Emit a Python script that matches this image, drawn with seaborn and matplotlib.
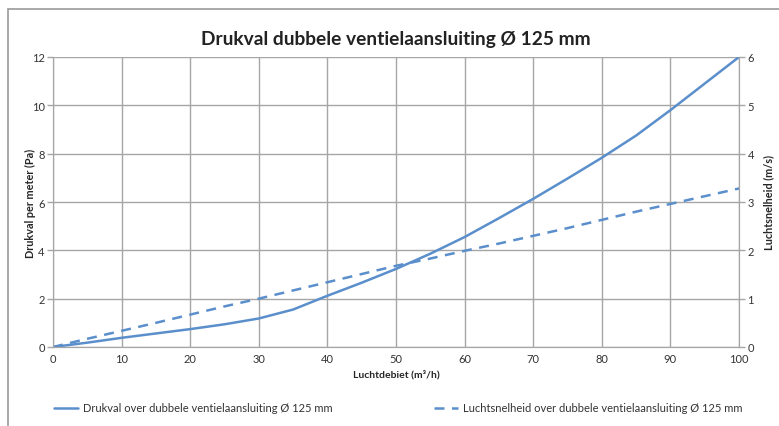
import matplotlib
matplotlib.use('Agg')
import matplotlib.pyplot as plt
import seaborn as sns
import pandas as pd
from matplotlib.patches import Rectangle

# gegevens
debiet = [0, 5, 10, 15, 20, 25, 30, 35, 40, 45, 50, 55, 60, 65, 70, 75, 80, 85, 90, 95, 100]
drukval = [0, 0.18, 0.38, 0.56, 0.74, 0.94, 1.18, 1.55, 2.12, 2.66, 3.23, 3.86, 4.55, 5.33, 6.13, 6.97, 7.83, 8.75, 9.8, 10.9, 12.0]
snelheid = [0, 0.17, 0.335, 0.5, 0.67, 0.84, 1.0, 1.17, 1.34, 1.51, 1.68, 1.83, 1.99, 2.14, 2.3, 2.46, 2.63, 2.8, 2.96, 3.12, 3.28]

df = pd.DataFrame({'debiet': debiet, 'drukval': drukval, 'snelheid': snelheid})

sns.set_style("white")
plt.rcParams['font.family'] = ['Lato', 'DejaVu Sans']

kleur = '#5b8fcc'
grijs = '#a6a6a6'

fig = plt.figure(figsize=(7.79, 4.27), dpi=100)
ax = fig.add_axes([53 / 779, 1 - 348 / 427, (739 - 53) / 779, (348 - 58) / 427])
ax2 = ax.twinx()

sns.lineplot(data=df, x='debiet', y='drukval', ax=ax, color=kleur, linewidth=1.8)
sns.lineplot(data=df, x='debiet', y='snelheid', ax=ax2, color=kleur, linewidth=1.8,
             linestyle=(0, (4, 3)))

ax.set_xlim(0, 100)
ax.set_ylim(0, 12)
ax2.set_ylim(0, 6)
ax.set_xticks(range(0, 101, 10))
ax.set_yticks(range(0, 13, 2))
ax2.set_yticks(range(0, 7))

ax.grid(True, color=grijs, linewidth=1)
for a in (ax, ax2):
    for s in a.spines.values():
        s.set_color(grijs)
    a.spines['top'].set_visible(False)
    a.tick_params(labelsize=8, labelcolor='#333333', color=grijs, length=4, width=1, pad=2)
ax.tick_params(axis='x', length=0, pad=4)
ax2.tick_params(axis='y', direction='out')

ax.set_xlabel('Luchtdebiet (m³/h)', fontsize=7.5, fontweight='bold', labelpad=4)
ax.set_ylabel('Drukval per meter (Pa)', fontsize=7.8, fontweight='bold', ha='center', va='center')
ax2.set_ylabel('Luchtsnelheid (m/s)', fontsize=7.8, fontweight='bold', rotation=90,
               ha='center', va='center')
ax.yaxis.set_label_coords(-23 / 686, 0.5)
ax2.yaxis.set_label_coords(1 + 30 / 686, 0.5)

fig.suptitle('Drukval dubbele ventielaansluiting Ø 125 mm', x=396 / 779, y=1 - 39 / 427,
             va='center', fontsize=13.8, fontweight='bold', color='#222222')

# kader rond de figuur
fig.patches.append(Rectangle((8 / 779, -0.05), 1.0, 1 - 10 / 427 + 0.05, transform=fig.transFigure,
                             fill=False, edgecolor='#999999', linewidth=1.2))

l1, = ax.plot([], [], color=kleur, linewidth=1.8)
l2, = ax.plot([], [], color=kleur, linewidth=1.8, linestyle=(0, (4, 3)))
leg1 = fig.legend([l1], ['Drukval over dubbele ventielaansluiting Ø 125 mm'], loc='center left',
                  bbox_to_anchor=(44 / 779, 1 - 409 / 427), frameon=False, fontsize=8.0,
                  handlelength=2.2, handletextpad=0.45)
leg2 = fig.legend([l2], ['Luchtsnelheid over dubbele ventielaansluiting Ø 125 mm'], loc='center left',
                  bbox_to_anchor=(424 / 779, 1 - 409 / 427), frameon=False, fontsize=8.0,
                  handlelength=2.2, handletextpad=0.45)
for t in leg1.get_texts() + leg2.get_texts():
    t.set_color('#333333')

fig.savefig('out.png', dpi=100)
plt.close(fig)
